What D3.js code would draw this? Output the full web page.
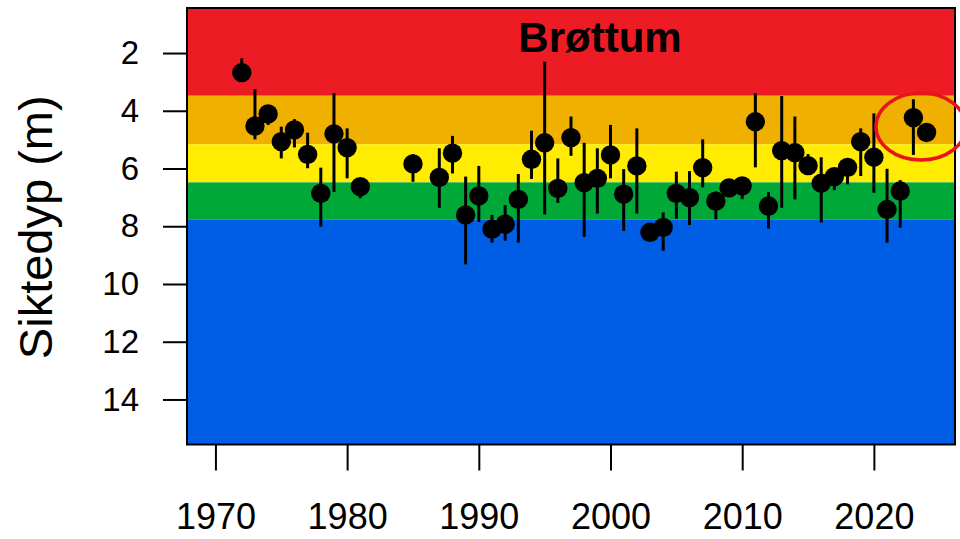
<!DOCTYPE html>
<html>
<head>
<meta charset="utf-8">
<script src="https://cdn.jsdelivr.net/npm/d3@7"></script>
<style>
  html, body { margin: 0; padding: 0; background: #fff; }
  svg { display: block; font-family: "Liberation Sans", Arial, sans-serif; }
</style>
</head>
<body>
<svg id="chart" width="960" height="539"></svg>
<script>
// ---- data ----
const title = "Brøttum";
const yLabel = "Siktedyp (m)";
const years  = [1972,1973,1974,1975,1976,1977,1978,1979,1980,1981,1985,1987,1988,1989,1990,1991,1992,1993,1994,1995,1996,1997,1998,1999,2000,2001,2002,2003,2004,2005,2006,2007,2008,2009,2010,2011,2012,2013,2014,2015,2016,2017,2018,2019,2020,2021,2022,2023,2024];
const depth  = [2.68,4.53,4.11,5.07,4.66,5.51,6.86,4.80,5.28,6.63,5.84,6.31,5.47,7.61,6.95,8.10,7.93,7.07,5.68,5.11,6.69,4.93,6.49,6.34,5.53,6.89,5.91,8.21,8.04,6.86,7.01,5.97,7.13,6.67,6.60,4.38,7.30,5.38,5.45,5.90,6.51,6.28,5.96,5.07,5.61,7.42,6.78,4.24,4.75];
const minDep = [2.18,3.25,3.80,4.55,4.29,4.76,5.97,3.39,4.61,6.34,5.50,5.30,4.87,6.28,5.91,7.61,7.27,6.19,4.69,2.30,5.65,4.20,5.11,5.30,4.49,6.02,4.61,7.90,7.52,6.11,6.09,4.99,6.80,6.45,6.35,3.39,6.81,3.49,4.20,5.50,5.61,6.00,5.70,4.61,4.09,6.01,6.40,3.60,4.75];
const maxDep = [2.90,4.99,4.49,5.65,5.27,5.99,8.02,6.81,6.34,7.03,6.46,7.36,6.17,9.32,7.85,8.57,8.50,8.57,6.36,7.59,7.19,5.56,8.37,7.56,6.34,8.16,7.56,8.48,8.85,7.74,7.96,6.65,7.76,6.90,7.06,5.96,8.08,7.36,7.07,6.20,7.87,6.75,6.55,6.26,6.84,8.57,8.05,5.53,4.75];
const xTicks = [1970,1980,1990,2000,2010,2020];
const yTicks = [2,4,6,8,10,12,14];
// class bands (depth limits, m) and colours
const bandTop    = [0.44, 3.48, 5.16, 6.48, 7.76];
const bandBottom = [3.48, 5.16, 6.48, 7.76, 15.56];
const bandColor  = ["#ED1C24", "#F0B000", "#FFEC00", "#00A838", "#005DE5"];
const highlightYears = [2023, 2024];

// ---- layout ----
const svg = d3.select("#chart");
const pLeft = 187, pRight = 955, pTop = 8, pBottom = 444.5;
const x = d3.scaleLinear().domain([1967.84, 2026.16]).range([pLeft, pRight]);
const y = d3.scaleLinear().domain([0.44, 15.56]).range([pTop, pBottom]);

// bands
svg.append("g").selectAll("rect").data(bandTop).join("rect")
  .attr("x", pLeft).attr("width", pRight - pLeft)
  .attr("y", (d) => y(d))
  .attr("height", (d, i) => y(bandBottom[i]) - y(d))
  .attr("fill", (d, i) => bandColor[i]);

// title
svg.append("text").attr("x", 600).attr("y", 52)
  .attr("text-anchor", "middle").attr("font-weight", "bold")
  .attr("font-size", 42).attr("fill", "#000").text(title);

// whiskers
const idx = d3.range(years.length);
svg.append("g").selectAll("line").data(idx).join("line")
  .attr("x1", (i) => x(years[i])).attr("x2", (i) => x(years[i]))
  .attr("y1", (i) => y(minDep[i])).attr("y2", (i) => y(maxDep[i]))
  .attr("stroke", "#000").attr("stroke-width", 3);

// points
svg.append("g").selectAll("circle").data(idx).join("circle")
  .attr("cx", (i) => x(years[i])).attr("cy", (i) => y(depth[i]))
  .attr("r", 9.7).attr("fill", "#000");

// border
svg.append("rect").attr("x", pLeft).attr("y", pTop)
  .attr("width", pRight - pLeft).attr("height", pBottom - pTop)
  .attr("fill", "none").attr("stroke", "#000").attr("stroke-width", 2);

// y axis
const yAxis = d3.axisLeft(y).tickValues(yTicks).tickSize(24).tickPadding(24).tickFormat(d3.format("d"));
const gy = svg.append("g").attr("transform", `translate(${pLeft},0)`).call(yAxis);
gy.select(".domain").remove();
gy.selectAll(".tick line").attr("stroke", "#000").attr("stroke-width", 2);
gy.selectAll(".tick text").attr("font-size", 33).attr("fill", "#000")
  .attr("font-family", "Liberation Sans, Arial, sans-serif");

// x axis
const xAxis = d3.axisBottom(x).tickValues(xTicks).tickSize(26).tickPadding(33).tickFormat(d3.format("d"));
const gx = svg.append("g").attr("transform", `translate(0,${pBottom})`).call(xAxis);
gx.select(".domain").remove();
gx.selectAll(".tick line").attr("stroke", "#000").attr("stroke-width", 2);
gx.selectAll(".tick text").attr("font-size", 36).attr("fill", "#000")
  .attr("font-family", "Liberation Sans, Arial, sans-serif");

// y label
svg.append("text")
  .attr("transform", `translate(52,${(pTop + pBottom) / 2 + 1}) rotate(-90)`)
  .attr("text-anchor", "middle").attr("font-size", 47).attr("fill", "#000")
  .text(yLabel);

// highlight ellipse around latest years
const hi = highlightYears.map((yr) => years.indexOf(yr));
const hx = d3.mean(hi, (i) => x(years[i]));
const hy = d3.mean(hi, (i) => y(depth[i]));
svg.append("ellipse").attr("cx", hx + 1).attr("cy", hy + 1.5)
  .attr("rx", 45).attr("ry", 33.5)
  .attr("fill", "none").attr("stroke", "#E8141C").attr("stroke-width", 3.5);
</script>
</body>
</html>
